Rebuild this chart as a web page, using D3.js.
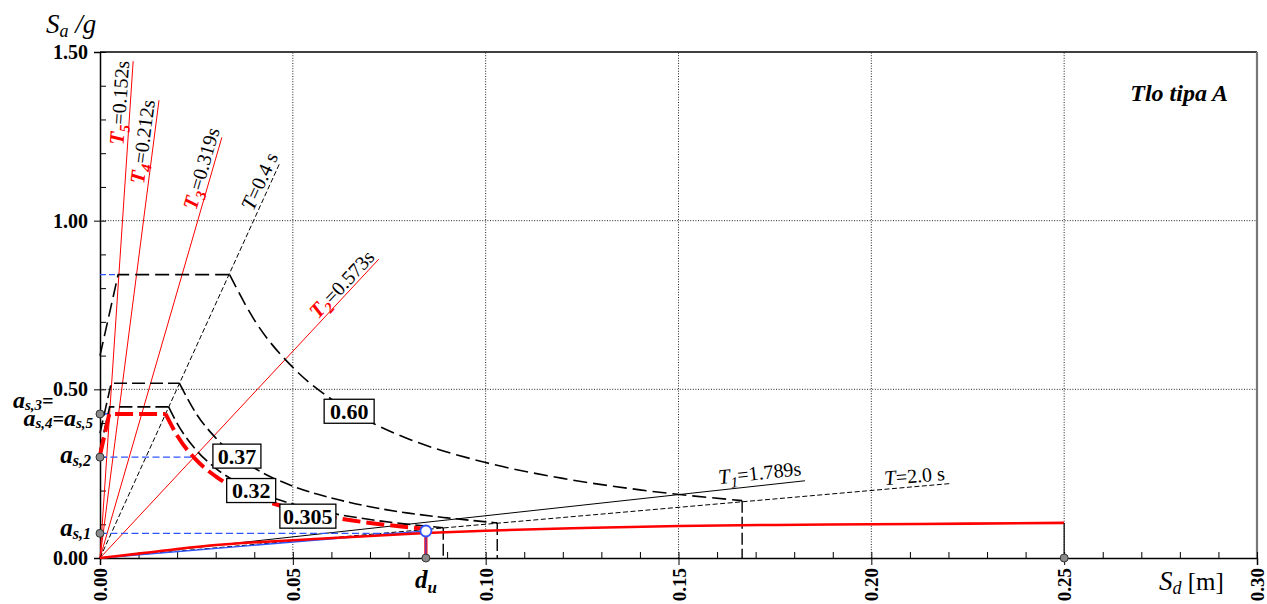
<!DOCTYPE html>
<html><head><meta charset="utf-8">
<script src="https://cdn.jsdelivr.net/npm/d3@7"></script>
<style>
body{margin:0;background:#fff}
svg{display:block}
text{font-family:"Liberation Serif","Times New Roman",serif}
</style>
</head><body>
<svg id="c" width="1267" height="604"></svg>
<script>
// ---------- DATA ----------
const xTickValues = [0.00, 0.05, 0.10, 0.15, 0.20, 0.25, 0.30];
const yTickValues = [0.00, 0.50, 1.00, 1.50];
const xMinorTicks = d3.range(0, 0.3001, 0.01);
const yMinorTicks = d3.range(0, 1.5001, 0.1);

// elastic spectra (ADRS), PGA labels
const spectrumLabels = ["0.60", "0.37", "0.32", "0.305"];
const spec060CornerSd = [0, 0.0047, 0.0336];
const spec060CornerSa = [0.60, 0.84, 0.84];
const spec060TailSd = [0.0336, 0.040, 0.050, 0.060, 0.070, 0.080, 0.100, 0.120, 0.140, 0.1665];
const spec060TailSa = [0.84, 0.706, 0.565, 0.471, 0.404, 0.353, 0.283, 0.236, 0.202, 0.170];

const spec037CornerSd = [0, 0.0029, 0.0206];
const spec037CornerSa = [0.37, 0.518, 0.518];
const spec037TailSd = [0.0206, 0.025, 0.030, 0.040, 0.050, 0.060, 0.070, 0.080, 0.090, 0.103];
const spec037TailSa = [0.518, 0.427, 0.356, 0.267, 0.213, 0.178, 0.152, 0.133, 0.119, 0.104];

const spec032CornerSd = [0, 0.0025, 0.0178];
const spec032CornerSa = [0.32, 0.448, 0.448];
const spec032TailSd = [0.0178, 0.020, 0.025, 0.030, 0.040, 0.050, 0.060, 0.070, 0.080, 0.089];
const spec032TailSa = [0.448, 0.399, 0.319, 0.266, 0.200, 0.160, 0.133, 0.114, 0.100, 0.0896];

const spec0305CornerSd = [0, 0.0024, 0.0170];
const spec0305CornerSa = [0.305, 0.427, 0.427];
const spec0305TailSd = [0.0170, 0.020, 0.025, 0.030, 0.040, 0.050, 0.060, 0.070, 0.0845];
const spec0305TailSa = [0.427, 0.363, 0.290, 0.242, 0.182, 0.145, 0.121, 0.104, 0.086];

// capacity curve
const capacitySd = [0, 0.010, 0.0285, 0.057, 0.0845, 0.100, 0.125, 0.150, 0.175, 0.200, 0.225, 0.250];
const capacitySa = [0, 0.013, 0.037, 0.057, 0.074, 0.081, 0.089, 0.095, 0.098, 0.100, 0.102, 0.104];

// target point / bilinear
const duSd = 0.0845;
const duSa = 0.080;
const as1 = 0.073, as2 = 0.299, as3 = 0.427, plateauMax = 0.84;
const as2EndSd = 0.0244;

// period lines
const periodSub = ["5", "4", "3", "", "2", "1", ""];
const periodText = ["=0.152s", "=0.212s", "=0.319s", "=0.4 s", "=0.573s", "=1.789s", "=2.0 s"];
const periodEndSd = [0.0086, 0.0153, 0.0316, 0.0467, 0.0723, 0.1828, 0.2208];
const periodEndSa = [1.473, 1.357, 1.247, 1.173, 0.886, 0.229, 0.221];
const periodKind = ["red", "red", "red", "blackDash", "red", "black", "blackDash"];

// ---------- LAYOUT ----------
const svg = d3.select("#c");
const x = d3.scaleLinear().domain([0, 0.30]).range([100, 1257]);
const y = d3.scaleLinear().domain([0, 1.50]).range([558, 52]);
const RED = "#ff0000", BLUE = "#2f55ff";

// grid
const grid = svg.append("g");
grid.selectAll("line.gx").data(xTickValues.filter(d => d > 0 && d < 0.3)).join("line")
  .attr("x1", d => x(d)).attr("x2", d => x(d)).attr("y1", y(0)).attr("y2", y(1.5))
  .attr("stroke", "#222").attr("stroke-width", 1).attr("stroke-dasharray", "1,1.6");
grid.selectAll("line.gy").data(yTickValues.filter(d => d > 0 && d < 1.5)).join("line")
  .attr("x1", x(0)).attr("x2", x(0.3)).attr("y1", d => y(d)).attr("y2", d => y(d))
  .attr("stroke", "#222").attr("stroke-width", 1).attr("stroke-dasharray", "1,1.6");

// borders
svg.append("line").attr("x1", x(0)).attr("x2", x(0.3)).attr("y1", y(1.5)).attr("y2", y(1.5))
  .attr("stroke", "#000").attr("stroke-width", 1.3);
svg.append("line").attr("x1", x(0.3)).attr("x2", x(0.3)).attr("y1", y(1.5)).attr("y2", y(0))
  .attr("stroke", "#777").attr("stroke-width", 2.2);

// axes
const yAxisMinor = d3.axisLeft(y).tickValues(yMinorTicks).tickSize(-6).tickFormat("");
const xAxisMinor = d3.axisBottom(x).tickValues(xMinorTicks).tickSize(-6).tickFormat("");
svg.append("g").attr("transform", `translate(${x(0)},0)`).call(yAxisMinor)
  .call(g => g.select(".domain").remove());
svg.append("g").attr("transform", `translate(0,${y(0)})`).call(xAxisMinor)
  .call(g => g.select(".domain").remove());

const yAxis = d3.axisLeft(y).tickValues(yTickValues).tickSize(6).tickPadding(5).tickFormat(d3.format(".2f"));
const gy = svg.append("g").attr("transform", `translate(${x(0)},0)`).call(yAxis);
gy.select(".domain").attr("stroke-width", 1.5);
gy.selectAll("text").attr("font-size", 20).attr("font-weight", "bold")
  .attr("font-family", "Liberation Serif").attr("fill", "#000").attr("x", -12);

const xAxis = d3.axisBottom(x).tickValues(xTickValues).tickSize(7).tickFormat(d3.format(".2f"));
const gx = svg.append("g").attr("transform", `translate(0,${y(0)})`).call(xAxis);
gx.select(".domain").attr("stroke-width", 1.5);
gx.selectAll("text").attr("font-size", 19).attr("font-weight", "bold")
  .attr("font-family", "Liberation Serif").attr("fill", "#000")
  .attr("transform", "rotate(-90)").attr("x", -10).attr("y", 0).attr("dy", "0.35em")
  .attr("text-anchor", "end");

// ---------- helpers ----------
const lineGen = d3.line().x(d => x(d[0])).y(d => y(d[1]));
const curveGen = d3.line().x(d => x(d[0])).y(d => y(d[1])).curve(d3.curveMonotoneX);
const zip = (a, b) => a.map((v, i) => [v, b[i]]);

function seg(g, x1, y1, x2, y2, stroke, w, dash) {
  return g.append("line").attr("x1", x(x1)).attr("y1", y(y1)).attr("x2", x(x2)).attr("y2", y(y2))
    .attr("stroke", stroke).attr("stroke-width", w).attr("stroke-dasharray", dash || null);
}

const plot = svg.append("g");

// period lines
periodEndSd.forEach((sd, i) => {
  const k = periodKind[i];
  seg(plot, 0, 0, sd, periodEndSa[i], k === "red" ? RED : "#000", 1,
      k === "blackDash" ? "5,2.5" : null);
});

// blue horizontal lines
seg(plot, 0, plateauMax, 0.0047, plateauMax, BLUE, 1.2, "6,3");
seg(plot, 0, as3, 0.0024, as3, BLUE, 1.5, null);
seg(plot, 0, as2, as2EndSd, as2, BLUE, 1.2, "7,3.5");
seg(plot, 0, as1, duSd, as1, BLUE, 1.2, "7,3.5");

function spectrum(cSd, cSa, tSd, tSa, stroke, w, dash, drop) {
  plot.append("path").attr("d", lineGen(zip(cSd, cSa))).attr("fill", "none")
    .attr("stroke", stroke).attr("stroke-width", w).attr("stroke-dasharray", dash);
  plot.append("path").attr("d", curveGen(zip(tSd, tSa))).attr("fill", "none")
    .attr("stroke", stroke).attr("stroke-width", w).attr("stroke-dasharray", dash);
  if (drop) {
    const last = tSd.length - 1;
    seg(plot, tSd[last], tSa[last], tSd[last], 0, stroke, 1.4, "12,4");
  }
}
spectrum(spec060CornerSd, spec060CornerSa, spec060TailSd, spec060TailSa, "#000", 1.6, "14,6", true);
spectrum(spec037CornerSd, spec037CornerSa, spec037TailSd, spec037TailSa, "#000", 1.6, "13,5", true);
spectrum(spec032CornerSd, spec032CornerSa, spec032TailSd, spec032TailSa, "#000", 1.6, "13,5", true);

// blue elastic branch to target
seg(plot, 0, 0, duSd, duSa, BLUE, 1.4, null);

// capacity curve
plot.append("path").attr("d", curveGen(zip(capacitySd, capacitySa))).attr("fill", "none")
  .attr("stroke", RED).attr("stroke-width", 2.6);
seg(plot, capacitySd[capacitySd.length - 1], capacitySa[capacitySa.length - 1],
    capacitySd[capacitySd.length - 1], 0, "#000", 1.2, null);

// red demand spectrum
spectrum(spec0305CornerSd, spec0305CornerSa, spec0305TailSd, spec0305TailSa, RED, 4, "18,6", false);

// target vertical
seg(plot, duSd, duSa, duSd, 0, RED, 3.2, null);
seg(plot, duSd, duSa, duSd, 0, BLUE, 1, null);

// markers
const grayPts = [[0, as1], [0, as2], [0, as3], [duSd, 0], [0.25, 0]];
plot.selectAll("circle.g").data(grayPts).join("circle")
  .attr("cx", d => x(d[0])).attr("cy", d => y(d[1])).attr("r", 4)
  .attr("fill", "#8a8a8a").attr("stroke", "#333").attr("stroke-width", 1);
plot.append("circle").attr("cx", x(duSd)).attr("cy", y(duSa)).attr("r", 5.5)
  .attr("fill", "#fff").attr("stroke", BLUE).attr("stroke-width", 1.8);

// ---------- labels ----------
function rich(g, parts, attrs) {
  const t = g.append("text");
  Object.entries(attrs || {}).forEach(([k, v]) => t.attr(k, v));
  parts.forEach(p => {
    const s = t.append("tspan").text(p.t);
    if (p.fill) s.attr("fill", p.fill);
    if (p.size) s.attr("font-size", p.size);
    if (p.bold) s.attr("font-weight", "bold");
    if (p.italic) s.attr("font-style", "italic");
    if (p.dy) s.attr("dy", p.dy);
  });
  return t;
}

// period labels along lines
const periodLabelFrac = [0.83, 0.815, 0.822, 0.871, 0.79, 0.879, 0.922];
const periodLabelOff = [4, 4, 4, 4, 3, 6, 4];
periodEndSd.forEach((sd, i) => {
  const f = periodLabelFrac[i];
  const px = x(sd * f), py = y(periodEndSa[i] * f);
  const ang = Math.atan2(y(periodEndSa[i]) - y(0), x(sd) - x(0)) * 180 / Math.PI;
  const g = svg.append("g").attr("transform", `translate(${px},${py}) rotate(${ang})`);
  const isRed = periodKind[i] === "red";
  const col = isRed ? RED : "#000";
  const parts = [{t: "T", fill: col, italic: true, bold: isRed, size: 21}];
  if (periodSub[i]) parts.push({t: periodSub[i], fill: col, italic: true, bold: isRed, size: 15, dy: 5});
  parts.push({t: periodText[i], fill: "#000", size: 20, dy: periodSub[i] ? -5 : 0});
  rich(g, parts, {x: 0, y: -periodLabelOff[i]});
});

// boxed PGA labels
const boxCenter = [[0.0646, 0.435], [0.0355, 0.302], [0.0392, 0.200], [0.0539, 0.124]];
const boxW = [50, 48, 49, 56];
spectrumLabels.forEach((lab, i) => {
  const cx = x(boxCenter[i][0]), cy = y(boxCenter[i][1]);
  svg.append("rect").attr("x", cx - boxW[i] / 2).attr("y", cy - 12).attr("width", boxW[i]).attr("height", 24)
    .attr("fill", "#fff").attr("stroke", "#000").attr("stroke-width", 1.3);
  svg.append("text").attr("x", cx).attr("y", cy + 7.5).attr("text-anchor", "middle")
    .attr("font-size", 22).attr("font-weight", "bold").text(lab);
});

// left a_s labels
const aLab = (parts, px, py, anchor) => rich(svg, parts, {x: px, y: py, "text-anchor": anchor || "end", "font-weight": "bold", "font-style": "italic"});
aLab([{t: "a", size: 24}, {t: "s,3", size: 15, dy: 2}, {t: "=", size: 20, dy: -2}], 13, 408, "start");
aLab([{t: "a", size: 24}, {t: "s,4", size: 15, dy: 2}, {t: "=", size: 20, dy: -2}, {t: "a", size: 24}, {t: "s,5", size: 15, dy: 2}], 93, 426);
aLab([{t: "a", size: 25}, {t: "s,2", size: 16, dy: 3}], 91, 463);
aLab([{t: "a", size: 25}, {t: "s,1", size: 16, dy: 3}], 91, 536);

// d_u
rich(svg, [{t: "d", size: 25, italic: true, bold: true}, {t: "u", size: 17, italic: true, bold: true, dy: 5}],
  {x: x(duSd), y: 588, "text-anchor": "middle"});

// axis titles
rich(svg, [{t: "S", size: 27, italic: true}, {t: "a", size: 18, italic: true, dy: 4}, {t: " /g", size: 27, italic: true, dy: -4}],
  {x: 46, y: 33});
rich(svg, [{t: "S", size: 27, italic: true}, {t: "d", size: 18, italic: true, dy: 4}, {t: " [m]", size: 25, dy: -4}],
  {x: 1159, y: 590});

// title in plot
svg.append("text").attr("x", 1228).attr("y", 101).attr("text-anchor", "end")
  .attr("font-size", 24).attr("font-weight", "bold").attr("font-style", "italic").text("Tlo tipa A");
</script>
</body></html>
